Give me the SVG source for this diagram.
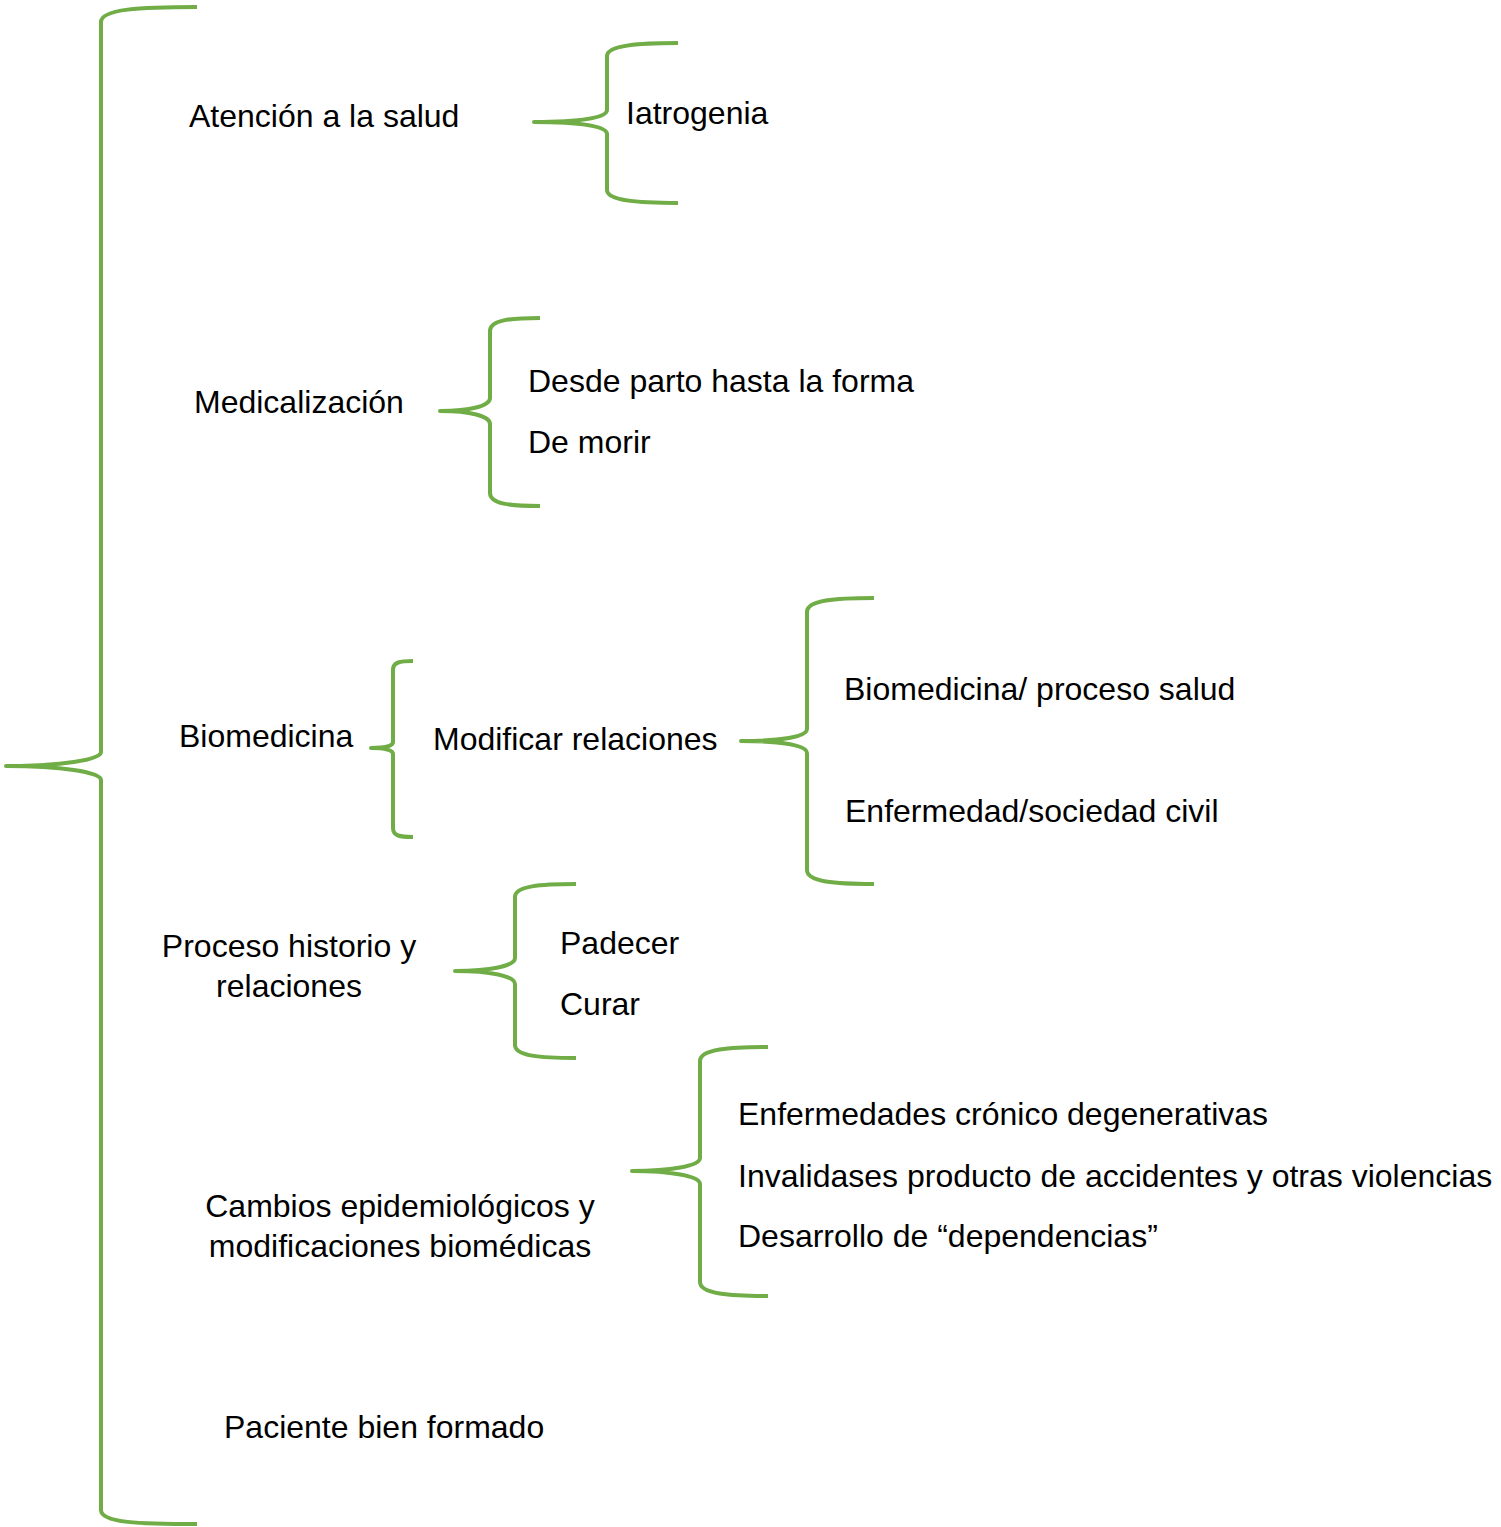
<svg xmlns="http://www.w3.org/2000/svg" width="1501" height="1527" viewBox="0 0 1501 1527">
<style>
.b{fill:none;stroke:#70AD47;stroke-width:4;stroke-linecap:butt;stroke-linejoin:round}
text{font-family:"Liberation Sans",Arial,sans-serif;font-size:32px;fill:#000}
.m{text-anchor:middle}
</style>
<rect width="1501" height="1527" fill="#fff"/>
<g id="connectors">
<path class="b" d="M197,7 C140,7 101,9 101,22 L101,752 C101,760 60,766 6,766 C60,766 101,772 101,780 L101,1510 C101,1523 140,1524 197,1524"/>
<path class="b" d="M678,43 C640,43 607,45 607,56 L607,110 C607,118 580,122 534,122 C580,122 607,126 607,134 L607,190 C607,201 640,203 678,203"/>
<path class="b" d="M540,318 C510,318 490,320 490,331 L490,398 C490,406 470,411 440,411 C470,411 490,416 490,424 L490,493 C490,504 510,506 540,506"/>
<path class="b" d="M413,661 C400,661 393,662 393,670 L393,742 C393,746 385,748 371,748 C385,748 393,750 393,754 L393,828 C393,836 400,837 413,837"/>
<path class="b" d="M874,598 C835,598 807,600 807,612 L807,729 C807,737 780,741 741,741 C780,741 807,745 807,753 L807,870 C807,882 835,884 874,884"/>
<path class="b" d="M576,884 C540,884 515,886 515,897 L515,958 C515,966 490,971 455,971 C490,971 515,976 515,984 L515,1045 C515,1056 540,1058 576,1058"/>
<path class="b" d="M768,1047 C730,1047 700,1049 700,1061 L700,1158 C700,1166 670,1171 632,1171 C670,1171 700,1176 700,1184 L700,1282 C700,1294 730,1296 768,1296"/>
</g>
<g id="n-atencion"><text x="189" y="127">Atención a la salud</text></g>
<g id="n-iatrogenia"><text x="626" y="124">Iatrogenia</text></g>
<g id="n-medicalizacion"><text x="194" y="413">Medicalización</text></g>
<g id="n-desde"><text x="528" y="392">Desde parto hasta la forma</text></g>
<g id="n-demorir"><text x="528" y="453">De morir</text></g>
<g id="n-biomedicina"><text x="179" y="747">Biomedicina</text></g>
<g id="n-modificar"><text x="433" y="750">Modificar relaciones</text></g>
<g id="n-bioproceso"><text x="844" y="700">Biomedicina/ proceso salud</text></g>
<g id="n-enfermedad"><text x="845" y="822">Enfermedad/sociedad civil</text></g>
<g id="n-proceso"><text class="m" x="289" y="957">Proceso historio y</text><text class="m" x="289" y="997">relaciones</text></g>
<g id="n-padecer"><text x="560" y="954">Padecer</text></g>
<g id="n-curar"><text x="560" y="1015">Curar</text></g>
<g id="n-cambios"><text class="m" x="400" y="1217">Cambios epidemiológicos y</text><text class="m" x="400" y="1257">modificaciones biomédicas</text></g>
<g id="n-cronicas"><text x="738" y="1125">Enfermedades crónico degenerativas</text></g>
<g id="n-invalidases"><text x="738" y="1187">Invalidases producto de accidentes y otras violencias</text></g>
<g id="n-dependencias"><text x="738" y="1247">Desarrollo de “dependencias”</text></g>
<g id="n-paciente"><text x="224" y="1438">Paciente bien formado</text></g>
</svg>
